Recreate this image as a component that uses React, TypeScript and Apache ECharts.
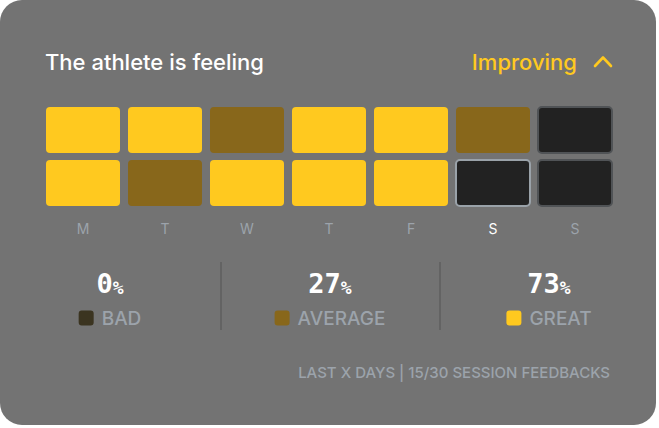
import { useEffect, useRef } from 'react';
import * as echarts from 'echarts';

// feedback per day: 2 = great, 1 = average, 0 = bad, -1 = no feedback
const days = ['M', 'T', 'W', 'T', 'F', 'S', 'S'];
const weeks = ['week1', 'week2'];
const week1 = [2, 2, 1, 2, 2, 1, -1];
const week2 = [2, 1, 2, 2, 2, -1, -1];
const todayWeek = 1;
const todayDay = 5;

const shareValues = [0, 27, 73];
const shareLabels = ['BAD', 'AVERAGE', 'GREAT'];

const title = 'The athlete is feeling';
const trend = 'Improving';
const footer = 'LAST X DAYS | 15/30 SESSION FEEDBACKS';

const CARD = '#737373';
const GREAT = '#ffc91f';
const AVERAGE = '#88671b';
const BAD = '#3b3420';
const EMPTY = '#222222';
const MUTED = '#9ca3ab';
const FONT = 'Inter, "Noto Sans", sans-serif';
const MONO = '"DejaVu Sans Mono", monospace';

const levelColor = (v: number) => (v === 2 ? GREAT : v === 1 ? AVERAGE : v === 0 ? BAD : EMPTY);
const shareColors = [BAD, AVERAGE, GREAT];

export default function App() {
  const chartRef = useRef<HTMLDivElement>(null);

  useEffect(() => {
    document.body.style.margin = '0';
    if (!chartRef.current) return;
    const chart = echarts.init(chartRef.current, undefined, { renderer: 'svg' });

    const cells: number[][] = [];
    [week1, week2].forEach((week, w) => {
      week.forEach((v, d) => cells.push([d, w, v]));
    });

    const colCenters = [110, 330, 549];

    const option: echarts.EChartsOption = {
      animation: false,
      backgroundColor: '#ffffff',
      grid: { left: 42, top: 103.5, width: 574, height: 106 },
      xAxis: {
        type: 'category',
        data: days,
        axisLine: { show: false },
        axisTick: { show: false },
        splitLine: { show: false },
        axisLabel: {
          margin: 12,
          fontSize: 14,
          fontFamily: FONT,
          color: ((_v: string, i: number) => (i === todayDay ? '#ffffff' : MUTED)) as any,
        },
      },
      yAxis: {
        type: 'category',
        data: weeks,
        inverse: true,
        show: false,
      },
      graphic: [
        {
          type: 'rect',
          z: -10,
          shape: { x: 0, y: 0, width: 656, height: 425, r: 22 },
          style: { fill: CARD },
        },
        {
          type: 'text',
          x: 45,
          y: 62,
          style: {
            text: title,
            fill: '#ffffff',
            font: `500 22px ${FONT}`,
            textVerticalAlign: 'middle',
          } as any,
        },
        {
          type: 'text',
          x: 577,
          y: 62,
          style: {
            text: trend,
            fill: GREAT,
            font: `500 22px ${FONT}`,
            textAlign: 'right',
            textVerticalAlign: 'middle',
          } as any,
        },
        {
          type: 'polyline',
          shape: { points: [[595, 66], [603, 57.5], [611, 66]] },
          style: { stroke: GREAT, lineWidth: 2.6, fill: 'none', lineCap: 'round', lineJoin: 'round' },
        },
        ...[221, 440].map((x) => ({
          type: 'line' as const,
          shape: { x1: x, y1: 262, x2: x, y2: 330 },
          style: { stroke: '#5e5e5e', lineWidth: 1.5 },
        })),
        ...shareValues.map((v, i) => ({
          type: 'text' as const,
          x: colCenters[i],
          y: 283,
          style: {
            text: `{n|${v}}{p|%}`,
            textAlign: 'center',
            textVerticalAlign: 'middle',
            rich: {
              n: { font: `bold 27px ${MONO}`, fill: '#ffffff', verticalAlign: 'bottom' },
              p: { font: `bold 18px ${MONO}`, fill: '#ffffff', verticalAlign: 'bottom' },
            },
          } as any,
        })),
        ...shareLabels.map((label, i) => ({
          type: 'text' as const,
          x: colCenters[i],
          y: 318,
          style: {
            text: `{sq|}{t|${label}}`,
            textAlign: 'center',
            textVerticalAlign: 'middle',
            rich: {
              sq: {
                width: 15,
                height: 15,
                backgroundColor: shareColors[i],
                borderRadius: 3,
              },
              t: { font: `500 19px ${FONT}`, fill: MUTED, padding: [0, 0, 0, 8] },
            },
          } as any,
        })),
        {
          type: 'text',
          x: 610,
          y: 372,
          style: {
            text: footer,
            fill: MUTED,
            font: `500 15px ${FONT}`,
            textAlign: 'right',
            textVerticalAlign: 'middle',
          } as any,
        },
      ],
      series: [
        {
          type: 'custom',
          data: cells,
          renderItem: (params: any, api: any) => {
            const d = api.value(0);
            const w = api.value(1);
            const v = api.value(2);
            const c = api.coord([d, w]);
            const s = api.size([1, 1]);
            const cw = s[0] - 8;
            const ch = s[1] - 7;
            const empty = v < 0;
            const today = d === todayDay && w === todayWeek;
            return {
              type: 'rect',
              shape: { x: c[0] - cw / 2, y: c[1] - ch / 2, width: cw, height: ch, r: 4 },
              style: {
                fill: levelColor(v),
                stroke: empty ? (today ? '#9aa2a9' : '#505356') : 'none',
                lineWidth: empty ? 2 : 0,
              },
            };
          },
        } as any,
      ],
    };

    chart.setOption(option);
    return () => chart.dispose();
  }, []);

  return <div ref={chartRef} style={{ width: 659, height: 428 }} />;
}
